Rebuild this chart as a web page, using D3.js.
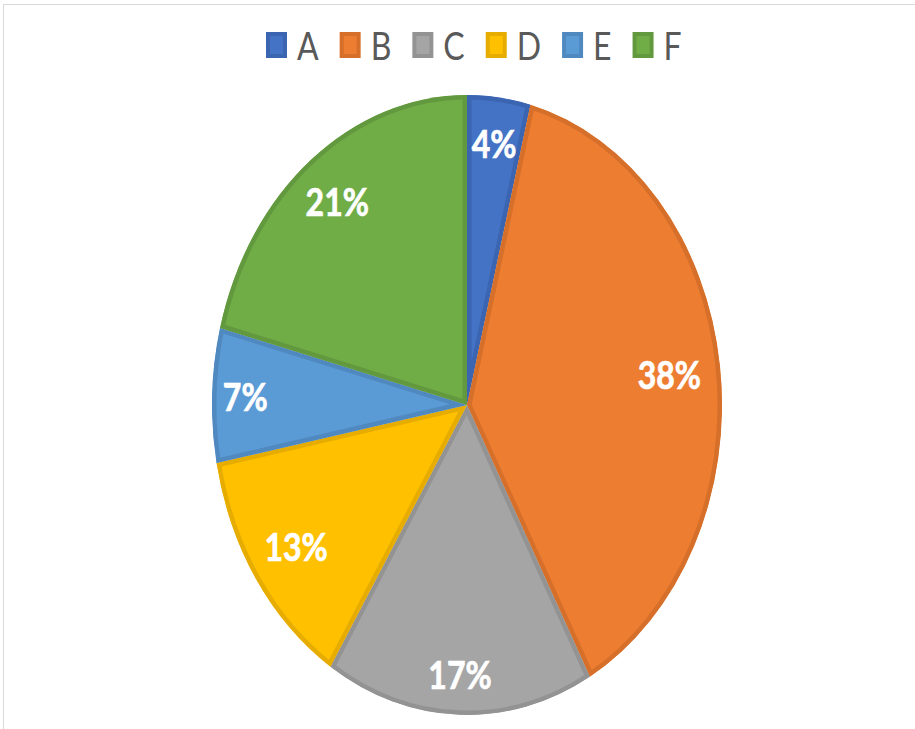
<!DOCTYPE html>
<html>
<head>
<meta charset="utf-8">
<script src="https://cdn.jsdelivr.net/npm/d3@7/dist/d3.min.js"></script>
<style>
  html, body { margin: 0; padding: 0; background: #fff; }
  svg { display: block; }
</style>
</head>
<body>
<svg id="chart" width="915" height="729"></svg>
<script>
// Share of each category, in percent
const categories = ["A", "B", "C", "D", "E", "F"];
const values = [4, 38, 17, 13, 7, 21];
const labels = ["4%", "38%", "17%", "13%", "7%", "21%"];
const fills = ["#4472C4", "#ED7D31", "#A5A5A5", "#FFC000", "#5B9BD5", "#70AD47"];
const edges = ["#3B65B1", "#D56F2A", "#939393", "#E6AC00", "#5089C0", "#63993E"];
// radial placement of each label, as a fraction of the radius
const labelRadius = [0.85, 0.80, 0.87, 0.81, 0.87, 0.83];

const cx = 467, cy = 405;
const rx = 255, ry = 310;
const stretch = ry / rx;

const svg = d3.select("#chart");

// outer chart frame
svg.append("rect")
  .attr("x", 3.5).attr("y", 4.5)
  .attr("width", 1200).attr("height", 1200)
  .attr("fill", "none")
  .attr("stroke", "#D9D9D9")
  .attr("stroke-width", 1);

const color = d3.scaleOrdinal().domain(categories).range(fills);
const edge = d3.scaleOrdinal().domain(categories).range(edges);

const pie = d3.pie().sort(null).value(d => d.value);
const data = categories.map((c, i) => ({ cat: c, value: values[i], label: labels[i] }));
const arcs = pie(data);

const arc = d3.arc().innerRadius(0).outerRadius(rx);

const defs = svg.append("defs");
const g = svg.append("g")
  .attr("transform", `translate(${cx},${cy}) scale(1,${stretch})`);

arcs.forEach((a, i) => {
  defs.append("clipPath").attr("id", "slice" + i)
    .append("path").attr("d", arc(a));
});

// slices with an inner edge in a darker shade
g.selectAll("path.slice")
  .data(arcs)
  .join("path")
  .attr("class", "slice")
  .attr("d", arc)
  .attr("fill", d => color(d.data.cat))
  .attr("stroke", d => edge(d.data.cat))
  .attr("stroke-width", 9)
  .attr("vector-effect", "non-scaling-stroke")
  .attr("stroke-linejoin", "round")
  .attr("clip-path", (d, i) => `url(#slice${i})`);

// percentage labels
const lab = svg.append("g");
arcs.forEach((a, i) => {
  const r = rx * labelRadius[i];
  const [x, y] = d3.arc().innerRadius(r).outerRadius(r).centroid(a);
  lab.append("g")
    .attr("transform", `translate(${cx + x},${cy + y * stretch}) scale(1,${stretch})`)
    .append("text")
    .attr("text-anchor", "middle")
    .attr("dominant-baseline", "central")
    .attr("font-family", "Lato, 'Open Sans', sans-serif")
    .attr("font-weight", 700)
    .attr("font-size", 32)
    .attr("fill", "#FFFFFF")
    .attr("stroke", "#FFFFFF")
    .attr("stroke-width", 0.6)
    .text(a.data.label);
});

// legend across the top
const legend = svg.append("g").attr("transform", "translate(266,0)");
const sq = { w: 21, h: 26 };
const legendY = 45;
let xPos = 0;
categories.forEach((c, i) => {
  const item = legend.append("g");
  item.append("rect")
    .attr("x", xPos + 2).attr("y", legendY - sq.h / 2 + 2)
    .attr("width", sq.w - 4).attr("height", sq.h - 4)
    .attr("fill", fills[i])
    .attr("stroke", edges[i])
    .attr("stroke-width", 4);
  const t = item.append("g")
    .attr("transform", `translate(${xPos + sq.w + 10},${legendY}) scale(1,${stretch})`)
    .append("text")
    .attr("dominant-baseline", "central")
    .attr("font-family", "Lato, 'Open Sans', sans-serif")
    .attr("font-size", 32)
    .attr("fill", "#595959")
    .text(c);
  const tw = t.node().getComputedTextLength();
  xPos += sq.w + 10 + tw + 21;
});
</script>
</body>
</html>
